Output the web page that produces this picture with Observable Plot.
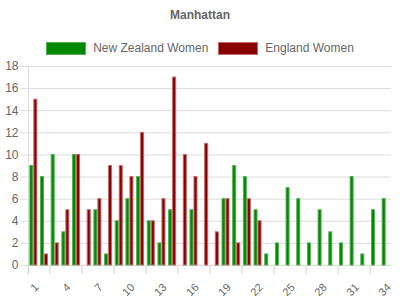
<!DOCTYPE html>
<html>
<head>
<meta charset="utf-8">
<script src="https://cdn.jsdelivr.net/npm/d3@7"></script>
<script src="https://cdn.jsdelivr.net/npm/@observablehq/plot@0.6"></script>
<style>
  body { margin: 0; background: #fff; font-family: "Liberation Sans", Arial, sans-serif; }
  #wrap { width: 400px; height: 300px; position: relative; }
  #title { position: absolute; top: 8px; left: 0; width: 400px; text-align: center; font-size: 12px; font-weight: bold; color: #666; }
  #legend { position: absolute; top: 41px; left: 0; width: 400px; display: flex; justify-content: center; font-size: 12px; color: #666; }
  .item { display: flex; align-items: center; margin: 0 5px; }
  .sw { width: 38px; height: 11px; margin-right: 7px; }
  #chart { position: absolute; top: 56px; left: 0; }
</style>
</head>
<body>
<div id="wrap">
  <div id="title">Manhattan</div>
  <div id="legend"></div>
  <div id="chart"></div>
</div>
<script>
const overs = d3.range(1, 35);
const seriesNames = ["New Zealand Women", "England Women"];
const nzRuns = [9, 8, 10, 3, 10, 0, 5, 1, 4, 6, 8, 4, 2, 5, 0, 5, 0, 0, 6, 9, 8, 5, 1, 2, 7, 6, 2, 5, 3, 2, 8, 1, 5, 6];
const engRuns = [15, 1, 2, 5, 10, 5, 6, 9, 9, 8, 12, 4, 6, 17, 10, 8, 11, 3, 6, 2, 6, 4];
const xTickLabels = [1, 4, 7, 10, 13, 16, 19, 22, 25, 28, 31, 34];
const xTickMarks = [1, 3, 6, 9, 12, 15, 18, 21, 24, 27, 30, 33];
const yTicks = [0, 2, 4, 6, 8, 10, 12, 14, 16, 18];
const fills = ["#008800", "#880000"];
const strokes = ["#55b055", "#c06a6a"];

const legend = document.getElementById("legend");
seriesNames.forEach((n, i) => {
  const it = document.createElement("div");
  it.className = "item";
  it.innerHTML = `<div class="sw" style="background:${fills[i]};border:1px solid ${strokes[i]}"></div><span>${n}</span>`;
  legend.appendChild(it);
});

const nzData = overs.map((o, i) => ({over: o, runs: nzRuns[i]})).filter(d => d.runs > 0);
const engData = engRuns.map((r, i) => ({over: i + 1, runs: r})).filter(d => d.runs > 0);

const W = 400, mL = 28, mR = 9;
const bw = (W - mL - mR) / overs.length;

const chart = Plot.plot({
  width: 400,
  height: 244,
  marginLeft: mL,
  marginRight: mR,
  marginTop: 10,
  marginBottom: 35,
  style: {fontFamily: "Liberation Sans, Arial, sans-serif", fontSize: "12px", color: "#666", background: "transparent"},
  x: {domain: overs, padding: 0, round: false, label: null},
  y: {domain: [0, 18], label: null},
  marks: [
    Plot.gridY(yTicks, {stroke: "#dcdcdc", strokeOpacity: 1}),
    Plot.axisY({ticks: yTicks, tickSize: 8, tickPadding: 2, stroke: "#dcdcdc", fill: "#666", fontSize: 12, label: null}),
    Plot.frame({anchor: "left", stroke: "#dcdcdc"}),
    Plot.axisX({ticks: xTickMarks, tickSize: 9, text: null, stroke: "#d0d0d0", dx: -bw / 2, label: null}),
    Plot.axisX({ticks: xTickLabels, tickSize: 0, tickRotate: -45, tickPadding: 20, fill: "#666", fontSize: 11, label: null, dx: 3}),
    Plot.ruleY([0], {stroke: "#dcdcdc"}),
    Plot.barY(nzData, {x: "over", y: "runs", fill: fills[0], stroke: strokes[0], strokeWidth: 1, insetLeft: bw / 2 - 4 + 0.5, insetRight: bw / 2 + 0.5}),
    Plot.barY(engData, {x: "over", y: "runs", fill: fills[1], stroke: strokes[1], strokeWidth: 1, insetLeft: bw / 2 + 0.5, insetRight: bw / 2 - 4 + 0.5})
  ]
});
document.getElementById("chart").appendChild(chart);
</script>
</body>
</html>
